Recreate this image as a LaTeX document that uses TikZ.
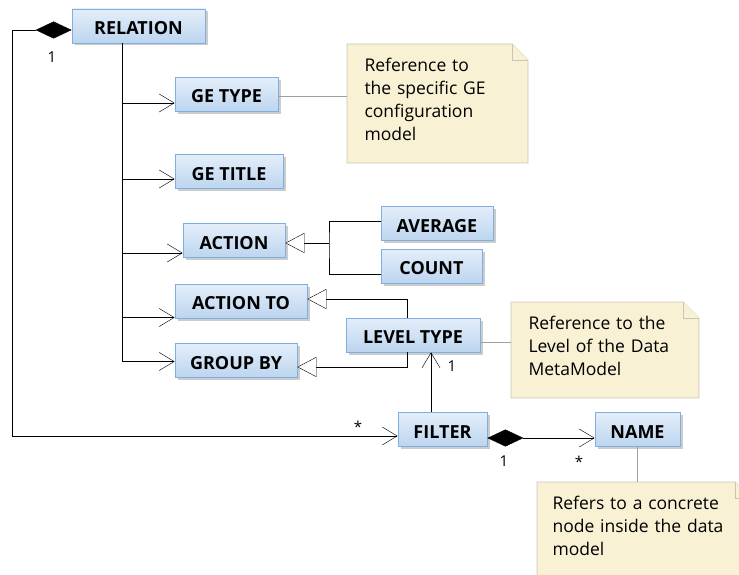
\documentclass[tikz,border=0pt]{standalone}
\usepackage{fontspec}
\setmainfont{Open Sans}
\usetikzlibrary{arrows.meta,shadows,backgrounds}
\definecolor{boxtop}{HTML}{E4EEFA}
\definecolor{boxbot}{HTML}{BCD5EF}
\definecolor{boxline}{HTML}{7EAFE0}
\definecolor{notefill}{HTML}{F8F1D4}
\definecolor{noteline}{HTML}{C9C5B5}
\definecolor{linkgray}{HTML}{A0A0A0}

\begin{document}
\begin{tikzpicture}[x=1pt,y=-1pt,line width=1pt,
    main node/.style={rectangle,draw=boxline,line width=0.8pt,top color=boxtop,bottom color=boxbot,minimum height=34,inner sep=0pt,text height=17pt,text depth=0pt,font=\bfseries\fontsize{18}{20}\selectfont,drop shadow={shadow xshift=2.5pt,shadow yshift=-2.5pt,fill=black,opacity=0.2}},
    note node/.style={inner xsep=17pt,inner ysep=14pt,align=left,font=\fontsize{17.5}{23}\selectfont,anchor=north west},
    note shape/.style={fill=notefill,draw=noteline,line width=0.8pt},
    link/.style={draw=linkgray,line width=0.7pt},
    assoc/.style={-{Straight Barb[length=15pt,width=18pt]}},
    gen/.style={-{Triangle[open,length=19pt,width=20pt,fill=white]}},
    comp/.style={{Diamond[length=36pt,width=17pt]}-{Straight Barb[length=15pt,width=18pt]}},
    small label/.style={font=\fontsize{15}{18}\selectfont,inner sep=0pt}]
  \useasboundingbox (0,0) rectangle (739,575);

  \node[main node,minimum width=133] (rel) at (138.5,26) {RELATION};
  \node[main node,minimum width=103] (type) at (226.5,94.5) {GE TYPE};
  \node[main node,minimum width=108] (title) at (229,171.5) {GE TITLE};
  \node[main node,minimum width=102] (act) at (234,240.5) {ACTION};
  \node[main node,minimum width=112] (avg) at (437,223.5) {AVERAGE};
  \node[main node,minimum width=101] (cnt) at (431.5,266) {COUNT};
  \node[main node,minimum width=132] (actto) at (241,301) {ACTION TO};
  \node[main node,minimum width=134] (lvl) at (413,335) {LEVEL TYPE};
  \node[main node,minimum width=122] (grp) at (236,360.5) {GROUP BY};
  \node[main node,minimum width=89] (filt) at (442.5,429.5) {FILTER};
  \node[main node,minimum width=85] (nm) at (637.5,429.5) {NAME};

  \node[note node,text width=146] (n1) at (347,44) {Reference to\\the specific GE\\configuration\\model};
  \node[note node,text width=153] (n2) at (511,302) {Reference to the\\Level of the Data\\MetaModel};
  \node[note node,inner xsep=15pt,text width=183] (n3) at (537,482) {Refers to a concrete\\node inside the data\\model};
  \begin{pgfonlayer}{background}
    \foreach \n/\b in {n1/163,n2/398,n3/620}{
      \draw[note shape] (\n.north west) -- ([xshift=-16pt]\n.north east) -- ([yshift=-16pt]\n.north east)
        -- (\n.north east |- 0,\b) -- (\n.north west |- 0,\b) -- cycle;
      \draw[note shape] ([xshift=-16pt]\n.north east) |- ([yshift=-16pt]\n.north east);
    }
  \end{pgfonlayer}

  \coordinate (t0) at (122,0);
  \coordinate (a1) at ([yshift=-8.5pt]type.west);
  \coordinate (a2) at ([yshift=-7.5pt]title.west);
  \coordinate (a3) at ([yshift=-12.5pt]act.west);
  \coordinate (a4) at ([yshift=-16.5pt]actto.west);
  \coordinate (a5) at ([yshift=-1pt]grp.west);
  \draw (rel.south -| t0) -- (a5 -| t0);
  \foreach \a in {a1,a2,a3,a4,a5}
    \draw[assoc] (\a -| t0) -- (\a);

  \coordinate (lx) at (12,0);
  \coordinate (r1) at ([yshift=-4pt]rel.west);
  \coordinate (f1) at ([yshift=-6.5pt]filt.west);
  \draw[comp] (r1) -| (lx |- f1) -- (f1);
  \coordinate (f2) at ([yshift=-8.5pt]filt.east);
  \draw[comp] (f2) -- (f2 -| nm.west);
  \coordinate (f3) at ([xshift=-11.5pt]filt.north);
  \draw[assoc] (f3) -- (f3 |- lvl.south);

  \coordinate (l1) at ([xshift=-6pt]lvl.north);
  \draw[gen] (l1) |- ([yshift=2pt]actto.east);
  \draw[gen] (l1 |- lvl.south) |- ([yshift=-6.5pt]grp.east);

  \coordinate (j) at (329,243);
  \draw ([yshift=2.5pt]avg.west) -| (j) |- ([yshift=-8pt]cnt.west);
  \draw[gen] (j) -- (j -| act.east);

  \coordinate (g1) at ([yshift=-1.5pt]type.east);
  \draw[link] (g1) -- (g1 -| n1.west);
  \coordinate (g2) at ([yshift=-7pt]lvl.east);
  \draw[link] (g2) -- (g2 -| n2.west);
  \draw[link] (nm.south) -- (nm.south |- n3.north);

  \node[small label] (m1) at (52,57) {1};
  \node[small label] (m2) at (358,427) {*};
  \node[small label] (m3) at (452,366) {1};
  \node[small label] (m4) at (504,461) {1};
  \node[small label] (m5) at (579,462) {*};
\end{tikzpicture}
\end{document}
